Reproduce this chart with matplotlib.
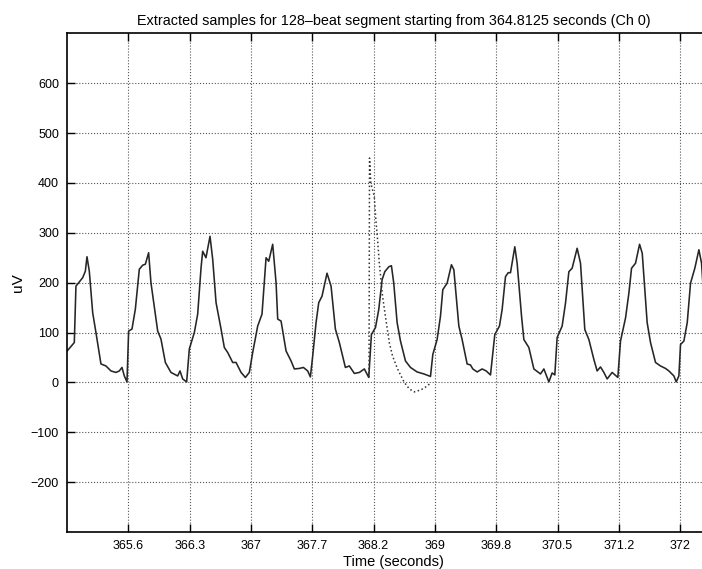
import matplotlib.pyplot as plt

# solid trace: extracted samples (time in s, amplitude in uV)
t_solid = [
    364.890, 364.973, 364.992, 365.070, 365.101, 365.120, 365.147, 365.186, 365.224,
    365.282, 365.340, 365.398, 365.456, 365.495, 365.526, 365.553, 365.584,
    365.603, 365.642, 365.681, 365.727, 365.766, 365.797, 365.835, 365.862, 365.940,
    365.978, 366.029, 366.094, 366.172, 366.199, 366.230, 366.276,
    366.307, 366.365, 366.404, 366.443, 366.462, 366.500, 366.547, 366.578, 366.617,
    366.675, 366.713, 366.752, 366.810, 366.849, 366.907, 366.957, 367.003,
    367.042, 367.100, 367.150, 367.197, 367.228, 367.274, 367.313, 367.332, 367.371,
    367.429, 367.487, 367.525, 367.583, 367.630, 367.680, 367.711,
    367.738, 367.777, 367.808, 367.846, 367.904, 367.951, 368.001, 368.047, 368.117,
    368.163, 368.221, 368.279, 368.337, 368.388,
    368.419, 368.466, 368.504, 368.543, 368.574, 368.621, 368.651, 368.678, 368.717,
    368.756, 368.814, 368.872, 368.949, 369.027, 369.104,
    369.131, 369.181, 369.220, 369.247, 369.297, 369.347, 369.375, 369.433, 369.471,
    369.529, 369.568, 369.595, 369.645, 369.703, 369.750, 369.800,
    369.850, 369.904, 369.935, 369.974, 370.005, 370.032, 370.082, 370.109, 370.160,
    370.187, 370.245, 370.303, 370.380, 370.419, 370.450, 370.477, 370.515, 370.546,
    370.573, 370.631, 370.670, 370.709, 370.747, 370.805, 370.844, 370.894, 370.941,
    370.999, 371.037, 371.076, 371.115, 371.153, 371.211, 371.258, 371.277,
    371.308, 371.366, 371.405, 371.436, 371.482, 371.529, 371.560, 371.617, 371.656,
    371.714, 371.772, 371.830, 371.869, 371.927, 371.954,
    371.985, 372.004, 372.043, 372.082, 372.120, 372.170, 372.217, 372.248, 372.275,
    372.310, 372.350,
]
uv_solid = [
    63, 80, 193, 210, 223, 252, 223, 140, 100, 37, 33, 23, 20, 23, 30, 13, 1,
    103, 107, 147, 227, 235, 237, 260, 200, 103, 87, 40, 20, 13, 23, 7, 1,
    67, 100, 137, 230, 263, 250, 293, 247, 160, 107, 70, 60, 40, 40, 20, 10, 20,
    60, 113, 137, 250, 243, 277, 200, 127, 123, 63, 43, 27, 28, 30, 23, 11,
    53, 120, 160, 173, 219, 193, 107, 80, 30, 33, 18, 20, 27, 10,
    96, 110, 146, 206, 222, 232, 234, 199, 120, 83, 43, 30, 21, 17, 12,
    56, 86, 133, 186, 199, 236, 226, 113, 86, 37, 35, 27, 21, 27, 23, 15,
    96, 113, 146, 212, 220, 220, 272, 239, 133, 86, 70, 27, 17, 27, 13, 1, 19, 15,
    90, 113, 159, 222, 229, 269, 239, 106, 86, 46, 23, 31, 20, 7, 20, 13, 10,
    83, 129, 179, 229, 239, 277, 259, 120, 80, 40, 33, 28, 23, 13, 1,
    13, 76, 83, 120, 199, 229, 266, 239, 166, 120, 80,
]

# dotted trace around 368.4 s
t_dotted = [368.391, 368.397, 368.412, 368.452, 368.470, 368.490, 368.510, 368.548,
            368.586, 368.626, 368.664, 368.722, 368.800, 368.858, 368.916, 368.992,
            369.070, 369.108]
uv_dotted = [10, 450, 400, 373, 327, 287, 240, 173, 127, 80, 53, 27, 0, -13, -19,
             -15, -7, 0]

xtick_labels = ["365.6", "366.3", "367", "367.7", "368.2", "369", "369.8",
                "370.5", "371.2", "372"]
ytick_values = [-200, -100, 0, 100, 200, 300, 400, 500, 600]

plt.rcParams["font.family"] = ["Liberation Sans", "DejaVu Sans"]

fig = plt.figure(figsize=(7.02, 5.69), dpi=100)
ax = fig.add_axes([0.0959, 0.065, 0.93, 0.8764])

ax.plot(t_solid, uv_solid, color="#262626", linewidth=1.15)
ax.plot(t_dotted, uv_dotted, color="#333333", linestyle=":", linewidth=1.1)

# tick marks are evenly spaced, labels as printed on the original
step = (372.0 - 365.6) / (len(xtick_labels) - 1)
xticks = [365.6 + i * step for i in range(len(xtick_labels))]
ax.set_xticks(xticks)
ax.set_xticklabels(xtick_labels)
ax.set_yticks(ytick_values)
ax.set_xlim(364.892, 372.464)
ax.set_ylim(-300, 700)

ax.tick_params(direction="in", length=6, width=1, labelsize=9, top=True,
               right=False, pad=6)
ax.grid(True, linestyle=":", color="#555555", linewidth=0.8)
for side in ["left", "bottom", "top"]:
    ax.spines[side].set_linewidth(1.2)

ax.set_title("Extracted samples for 128\u2013beat segment starting from 364.8125 seconds (Ch 0)",
             fontsize=10.4, pad=6)
ax.set_xlabel("Time (seconds)", fontsize=10.5, labelpad=2)
ax.set_ylabel("uV", fontsize=11, labelpad=4)

fig.savefig("out.png", dpi=100)
